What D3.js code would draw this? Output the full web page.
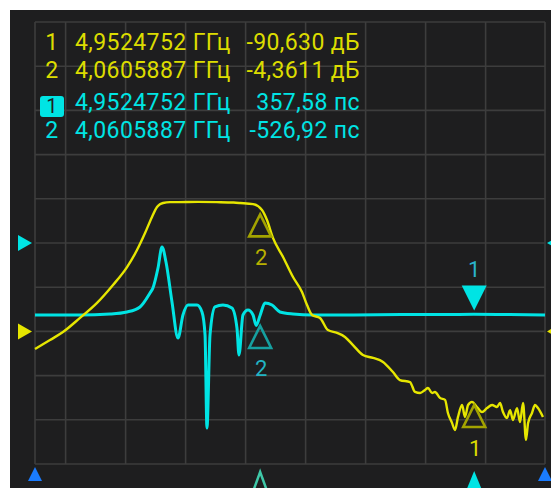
<!DOCTYPE html>
<html>
<head>
<meta charset="utf-8">
<script src="https://cdn.jsdelivr.net/npm/d3@7"></script>
<style>
  body { margin: 0; background: #ffffff; }
  text { font-family: Roboto, "Noto Sans", sans-serif; }
</style>
</head>
<body>
<div id="chart"></div>
<script>
// S21 magnitude (yellow), GHz / dB
var freqY = [3.1225, 3.185, 3.239, 3.31, 3.381, 3.4475, 3.506, 3.5475, 3.581, 3.61, 3.631, 3.643, 3.656, 3.685, 3.72, 3.8, 3.88, 3.95, 3.977, 4.031,
    4.0683, 4.089, 4.114, 4.156, 4.1975, 4.235, 4.256, 4.277, 4.31, 4.343, 4.381, 4.414, 4.4475, 4.489, 4.531, 4.5725, 4.614, 4.643, 4.685, 4.706,
    4.727, 4.7475, 4.76, 4.777, 4.789, 4.81, 4.831, 4.843, 4.86, 4.8725, 4.885, 4.902, 4.914, 4.927, 4.9433, 4.964, 4.985, 5.006, 5.027, 5.0475,
    5.06, 5.0725, 5.089, 5.102, 5.114, 5.131, 5.1433, 5.156, 5.1683, 5.177, 5.1933, 5.206, 5.2183, 5.239];
var dbY = [-66, -61.9, -58.3, -51.9, -45.1, -37, -28.9, -21.2, -13.5, -6.2, -1.7, -0.5, 0.1, 0.5, 0.5, 0.6, 0.5, 0.3, 0.1, -0.4,
    -3.1, -7.6, -15.7, -24.3, -33.4, -40.2, -46.1, -50.6, -51.9, -57.4, -58.7, -60.5, -64.2, -68.7, -70, -71.8, -76.4, -80, -80.9, -85.4,
    -85.9, -84.5, -83.6, -85.9, -85.4, -88.1, -89, -94.9, -99.4, -102.6, -96.7, -91.3, -96.7, -91.3, -89.9, -92.2, -94.5, -92.7, -91.3, -92.2,
    -90.4, -94.5, -97.2, -93.6, -98.1, -92.7, -99, -90.4, -107.1, -99.4, -94.9, -91.3, -92.7, -96.7];

// group delay (cyan), GHz / ns
var freqC = [3.1225, 3.31, 3.435, 3.506, 3.56, 3.6017, 3.614, 3.635, 3.6517, 3.6683, 3.6933, 3.7183, 3.739, 3.76, 3.7975, 3.8183, 3.831, 3.839, 3.8517, 3.8725,
    3.9058, 3.943, 3.964, 3.9725, 3.989, 4.01, 4.031, 4.044, 4.0606, 4.081, 4.11, 4.143, 4.1975, 4.281, 4.45, 4.65, 4.85, 4.95, 5.1, 5.2475];
var delayC = [0.11, 0.11, 0.18, 0.32, 0.66, 1.61, 1.95, 3.3, 4.73, 3.71, 1.0, -1.45, 0.11, 0.79, 0.79, 0.32, -1.24, -7.56, -1.24, 0.66,
    0.79, 0.59, -0.77, -2.6, 0.11, 0.45, 0.11, -0.6, 0.1, 0.93, 0.79, 0.32, 0.18, 0.11, 0.12, 0.14, 0.15, 0.16, 0.14, 0.12];

// markers
var markerIds = ["1", "2"];
var markerFreqs = [4.9524752, 4.0605887];
var markerDb = [-90.630, -4.3611];
var markerDelay = [357.58, -526.92]; // ps

var xGridFreqs = [3.25, 3.5, 3.75, 4.0, 4.25, 4.5, 4.75, 5.0];

var W = 551, H = 488;
var plot = { left: 35, right: 545, top: 22, bottom: 464 };

var yellow = "#e6e600", yellowText = "#dcdc00", yellowDim = "#a3a300";
var cyan = "#00e4e4", cyanDim = "#16a0a0";

var svg = d3.select("#chart")
    .append("svg")
    .attr("width", W)
    .attr("height", H);

svg.append("rect")
    .attr("x", 10).attr("y", 10)
    .attr("width", W - 10).attr("height", H - 10)
    .attr("fill", "#1e1e1f");

var x = d3.scaleLinear().domain([3.1225, 5.2475]).range([plot.left, plot.right]);
var yDb = d3.scaleLinear().domain([-118, 82]).range([plot.bottom, plot.top]);
var yDel = d3.scaleLinear().domain([-10, 20]).range([plot.bottom, plot.top]);
var div = d3.scaleLinear().domain([0, 10]).range([plot.top, plot.bottom]);

// graticule
var grid = svg.append("g").attr("stroke", "#3d3d3d").attr("stroke-width", 1.6);
grid.selectAll(".h")
    .data(d3.range(0, 11))
    .enter().append("line")
    .attr("x1", plot.left).attr("x2", plot.right)
    .attr("y1", function (d) { return div(d); })
    .attr("y2", function (d) { return div(d); });
grid.selectAll(".v")
    .data([x.domain()[0]].concat(xGridFreqs, [x.domain()[1]]))
    .enter().append("line")
    .attr("y1", plot.top).attr("y2", plot.bottom)
    .attr("x1", function (d) { return x(d); })
    .attr("x2", function (d) { return x(d); });

// marker table
var fmt = function (v, n) { return v.toPrecision(n).replace(".", ","); };
var rows = [
    { id: "1", f: markerFreqs[0], v: fmt(markerDb[0], 5) + " дБ", c: yellowText, y: 50 },
    { id: "2", f: markerFreqs[1], v: fmt(markerDb[1], 5) + " дБ", c: yellowText, y: 78 },
    { id: "1", f: markerFreqs[0], v: fmt(markerDelay[0], 5) + " пс", c: cyan, y: 110, active: true },
    { id: "2", f: markerFreqs[1], v: fmt(markerDelay[1], 5) + " пс", c: cyan, y: 138 }
];
rows.forEach(function (r) {
    var g = svg.append("g").style("font-size", "23px").style("letter-spacing", "0.4px");
    if (r.active) {
        g.append("rect")
            .attr("x", 40).attr("y", r.y - 14)
            .attr("width", 24).attr("height", 21)
            .attr("rx", 3)
            .attr("fill", cyan);
        g.append("text").attr("x", 52).attr("y", r.y + 3)
            .attr("text-anchor", "middle")
            .style("font-size", "20px")
            .attr("fill", "#1e1e1f")
            .text(r.id);
    } else {
        g.append("text").attr("x", 52).attr("y", r.y)
            .attr("text-anchor", "middle")
            .attr("fill", r.c)
            .text(r.id);
    }
    g.append("text").attr("x", 75).attr("y", r.y)
        .attr("fill", r.c)
        .text(r.f.toFixed(7).replace(".", ",") + " ГГц");
    g.append("text").attr("x", 360).attr("y", r.y)
        .attr("text-anchor", "end")
        .attr("fill", r.c)
        .text(r.v);
});

// traces
var lineC = d3.line()
    .x(function (d, i) { return x(freqC[i]); })
    .y(function (d) { return yDel(d); })
    .curve(d3.curveMonotoneX);
var lineY = d3.line()
    .x(function (d, i) { return x(freqY[i]); })
    .y(function (d) { return yDb(d); })
    .curve(d3.curveMonotoneX);

svg.append("path").datum(delayC)
    .attr("d", lineC)
    .attr("fill", "none")
    .attr("stroke", cyan)
    .attr("stroke-width", 3)
    .attr("stroke-linejoin", "round");
svg.append("path").datum(dbY)
    .attr("d", lineY)
    .attr("fill", "none")
    .attr("stroke", yellow)
    .attr("stroke-width", 2.4)
    .attr("stroke-linejoin", "round");

// reference level arrows (division index)
var refs = [{ d: 5, c: cyan }, { d: 7, c: yellow }];
refs.forEach(function (r) {
    var yy = div(r.d);
    svg.append("path")
        .attr("d", "M18," + (yy - 8) + "L32," + yy + "L18," + (yy + 8) + "Z")
        .attr("fill", r.c);
    svg.append("path")
        .attr("d", "M" + (W + 10) + "," + (yy - 8) + "L547," + yy + "L" + (W + 10) + "," + (yy + 8) + "Z")
        .attr("fill", r.c);
});

// markers on traces
function upTri(cx, ty, w, h) {
    return "M" + cx + "," + ty + "L" + (cx + w / 2) + "," + (ty + h) + "L" + (cx - w / 2) + "," + (ty + h) + "Z";
}
function downTri(cx, by, w, h) {
    return "M" + cx + "," + by + "L" + (cx + w / 2) + "," + (by - h) + "L" + (cx - w / 2) + "," + (by - h) + "Z";
}

markerIds.forEach(function (id, i) {
    var mx = x(markerFreqs[i]);
    var yy = yDb(markerDb[i]);
    svg.append("path")
        .attr("d", upTri(mx, yy + 1.5, 22, 22))
        .attr("fill", "none")
        .attr("stroke", yellowDim)
        .attr("stroke-width", 2.6);
    svg.append("text")
        .attr("x", mx + 1).attr("y", yy + 52)
        .attr("text-anchor", "middle")
        .style("font-size", "22px")
        .attr("fill", i === 0 ? yellowText : "#b8b000")
        .text(id);

    var yc = yDel(markerDelay[i] / 1000);
    if (i === 0) {
        svg.append("path")
            .attr("d", downTri(mx, yc - 1, 25, 25))
            .attr("fill", cyan);
        svg.append("text")
            .attr("x", mx).attr("y", yc - 34)
            .attr("text-anchor", "middle")
            .style("font-size", "22px")
            .attr("fill", "#2ab4cc")
            .text(id);
    } else {
        svg.append("path")
            .attr("d", upTri(mx, yc + 1.5, 22, 22))
            .attr("fill", "none")
            .attr("stroke", cyanDim)
            .attr("stroke-width", 2.6);
        svg.append("text")
            .attr("x", mx + 1).attr("y", yc + 52)
            .attr("text-anchor", "middle")
            .style("font-size", "22px")
            .attr("fill", "#22b4c4")
            .text(id);
    }

    // bottom marker flags
    if (i === 0) {
        svg.append("path").attr("d", upTri(mx, 471, 18, 22)).attr("fill", cyan);
    } else {
        svg.append("path").attr("d", upTri(mx, 472, 16, 22))
            .attr("fill", "none").attr("stroke", "#3fc8a8").attr("stroke-width", 2.5);
    }
});

// start / stop flags
x.domain().forEach(function (f) {
    svg.append("path").attr("d", upTri(x(f), 467, 14, 14)).attr("fill", "#1a7cff");
});
</script>
</body>
</html>
